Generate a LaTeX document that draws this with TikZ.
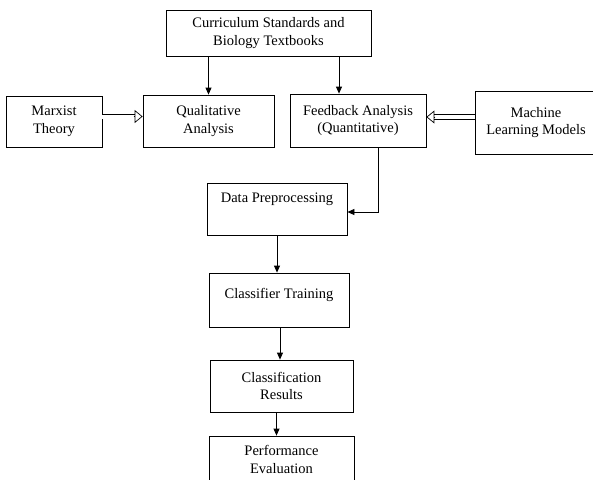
\documentclass[tikz,border=0pt]{standalone}
\usepackage{fontspec}
\setmainfont{Liberation Serif}
\usetikzlibrary{arrows.meta,calc}
\begin{document}
\begin{tikzpicture}[x=1pt,y=-1pt,
 box/.style={draw, line width=0.8pt, rectangle, align=center, inner sep=0pt, font=\fontsize{14.5}{17.5}\selectfont},
 arr/.style={line width=0.8pt, -{Triangle[length=7pt,width=6pt]}},
 dbl/.style={double, double distance=4pt, line width=0.7pt},
 hd/.style={line width=0.7pt, -{Triangle[open,length=8pt,width=13pt]}}]
\useasboundingbox (0,0) rectangle (593,479);
\clip (0,0) rectangle (593,479);
\node[box, minimum width=205pt, minimum height=46pt] (cur) at (268.5,33) {Curriculum Standards and\\Biology Textbooks};
\node[box, minimum width=96pt, minimum height=51pt] (mar) at (54,121.5) {Marxist\\Theory};
\node[box, minimum width=131pt, minimum height=52pt] (qual) at (208.5,121) {Qualitative\\Analysis};
\node[box, minimum width=136pt, minimum height=53pt] (fb) at (358,120.5) {Feedback Analysis\\(Quantitative)};
\node[box, minimum width=122pt, minimum height=63pt] (ml) at (536,122.5) {Machine\\Learning Models};
\node[box, minimum width=140pt, minimum height=52pt] (dp) at (277,209) {Data Preprocessing\\[5pt]~};
\node[box, minimum width=140pt, minimum height=54pt] (ct) at (279,300) {Classifier Training\\[-4pt]~};
\node[box, minimum width=143pt, minimum height=52pt] (cr) at (281.5,386) {Classification\\Results};
\node[box, minimum width=145pt, minimum height=64pt] (pe) at (281.5,468) {Performance\\Evaluation\\~};
% arrows
\draw[arr] (qual.north |- cur.south) -- (qual.north);
\draw[arr] ($(fb.north |- cur.south)+(-19,0)$) -- ($(fb.north)+(-19,0)$);
\coordinate (mq) at ($(qual.west |- mar.east)+(0,-5)$);
\draw[dbl] ($(mar.east)+(0,-5)$) -- ($(mq)+(-8,0)$);
\draw[hd] ($(mq)+(-9,0)$) -- (mq);
\coordinate (fm) at ($(fb.east |- ml.west)+(0,-5.5)$);
\draw[dbl] ($(ml.west)+(0,-5.5)$) -- ($(fm)+(8,0)$);
\draw[hd] ($(fm)+(9,0)$) -- (fm);
\draw[line width=0.8pt, -{Triangle[length=7pt,width=6pt]}] ($(fb.south)+(20,0)$) |- ($(dp.east)+(0,3)$);
\draw[arr] (dp.south) -- (dp.south |- ct.north);
\draw[arr] ($(ct.south)+(1,0)$) -- ($(ct.south |- cr.north)+(1,0)$);
\draw[arr] ($(cr.south)+(-5,0)$) -- ($(cr.south |- pe.north)+(-5,0)$);
\end{tikzpicture}
\end{document}
